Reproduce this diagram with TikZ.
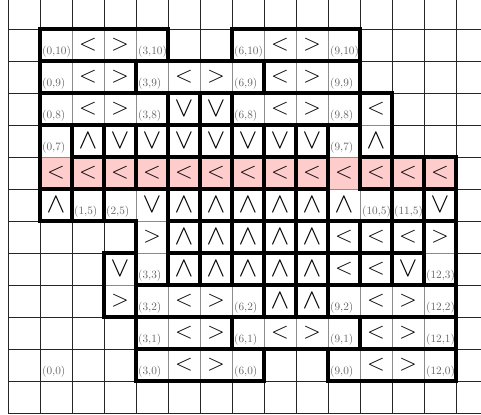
\documentclass[tikz,border=0pt]{standalone}
\definecolor{pinkfill}{RGB}{255,204,204}
\begin{document}
\begin{tikzpicture}[x=1cm,y=1cm,
  gridline/.style={line width=0.6pt, draw=black!85},
  cellbox/.style={draw=black!45, line width=0.5pt, fill=white},
  pinkbox/.style={draw=black!45, line width=0.5pt, fill=pinkfill},
  tile/.style={draw=black, line width=3.5pt, line join=miter},
  lab/.style={anchor=base west, inner sep=0pt, text=black!60, font=\normalsize},
  arrh/.style={anchor=center, inner sep=0pt, font=\huge},
  arrv/.style={anchor=center, inner sep=0pt, font=\Huge},
]
\useasboundingbox (-1.25,-1.03) rectangle (13.78,11.91);
\begin{scope}
  \clip (-1.25,-1.03) rectangle (13.78,11.91);
  \draw[gridline] (-1,-1) grid (15,13);
\end{scope}
% region cells
\foreach \j/\a/\b in {10/0/3, 10/6/9, 9/0/9, 8/0/10, 7/0/10, 5/0/12, 4/3/12, 3/2/12, 2/2/12, 1/3/12, 0/3/6, 0/9/12}
  \foreach \i in {\a,...,\b} \path[cellbox] (\i,\j) rectangle ++(1,1);
\foreach \i in {0,...,12} \path[pinkbox] (\i,6) rectangle ++(1,1);
% labels
\foreach \i/\j in {0/10,3/10,6/10,9/10,0/9,3/9,6/9,9/9,0/8,3/8,6/8,9/8,0/7,9/7,1/5,2/5,10/5,11/5,3/3,12/3,3/2,6/2,9/2,12/2,3/1,6/1,9/1,12/1,0/0,3/0,6/0,9/0,12/0}
  \node[lab] (l-\i-\j) at (\i+0.06,\j+0.2) {(\i,\j)};
% arrows
\foreach \i/\j in {1/10,7/10,1/9,4/9,7/9,1/8,7/8,10/8,0/6,1/6,2/6,3/6,4/6,5/6,6/6,7/6,8/6,9/6,10/6,11/6,12/6,9/4,10/4,11/4,9/3,10/3,4/2,10/2,4/1,7/1,10/1,4/0,10/0}
  \node[arrh] (a-\i-\j) at (\i+0.5,\j+0.5) {$<$};
\foreach \i/\j in {2/10,8/10,2/9,5/9,8/9,2/8,8/8,3/4,12/4,2/2,5/2,11/2,5/1,8/1,11/1,5/0,11/0}
  \node[arrh] (a-\i-\j) at (\i+0.5,\j+0.5) {$>$};
\foreach \i/\j in {1/7,10/7,0/5,4/5,5/5,6/5,7/5,8/5,9/5,4/4,5/4,6/4,7/4,8/4,4/3,5/3,6/3,7/3,8/3,7/2,8/2}
  \node[arrv] (a-\i-\j) at (\i+0.5,\j+0.5) {$\wedge$};
\foreach \i/\j in {4/8,5/8,2/7,3/7,4/7,5/7,6/7,7/7,8/7,3/5,12/5,2/3,11/3}
  \node[arrv] (a-\i-\j) at (\i+0.5,\j+0.5) {$\vee$};
% tiles (thick outlines)
\foreach \xa/\ya/\xb/\yb in {0/10/4/11, 6/10/10/11, 0/9/3/10, 3/9/7/10, 7/9/10/10, 0/8/4/9, 4/8/5/9, 5/8/6/9, 6/8/10/9, 10/7/11/9, 0/6/1/8, 12/3/13/5, 2/2/3/4, 3/2/7/3, 7/2/8/3, 8/2/9/3, 9/2/13/3, 3/1/6/2, 6/1/10/2, 10/1/13/2, 3/0/7/1, 9/0/13/1}
  \draw[tile] (\xa,\ya) rectangle (\xb,\yb);
\foreach \i in {1,...,8} \draw[tile] (\i,7) rectangle ++(1,1);
\foreach \i in {1,...,8,10,11,12} \draw[tile] (\i,6) rectangle ++(1,1);
\foreach \i in {0,1,4,5,6,7,8,11,12} \draw[tile] (\i,5) rectangle ++(1,1);
\foreach \i in {4,...,11} \draw[tile] (\i,4) rectangle ++(1,1);
\foreach \i in {4,...,11} \draw[tile] (\i,3) rectangle ++(1,1);
\draw[tile] (9,5) -- (11,5) -- (11,6) -- (10,6) -- (10,8) -- (9,8) -- cycle;
\draw[tile] (2,5) -- (3,5) -- (3,3) -- (4,3) -- (4,6) -- (2,6) -- cycle;
\end{tikzpicture}
\end{document}
